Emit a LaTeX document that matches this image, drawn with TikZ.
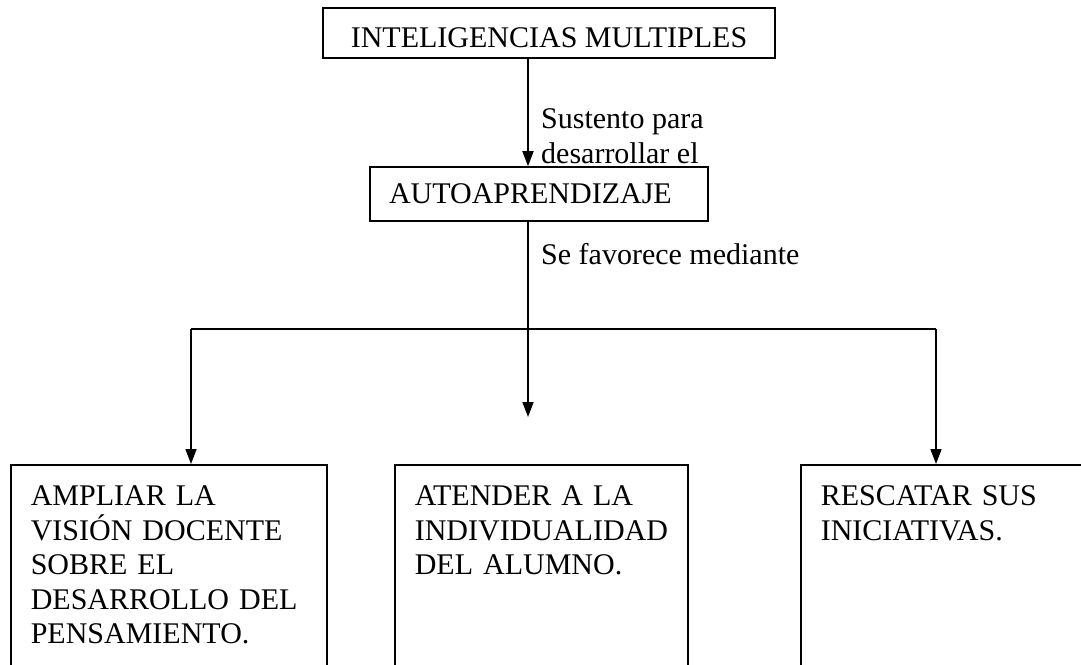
\documentclass[tikz,border=0pt]{standalone}
\usepackage{fontspec}
\setmainfont{Liberation Serif}
\usetikzlibrary{arrows.meta,positioning}
\hyphenpenalty=10000
\newcommand{\mapfont}{\fontsize{30}{34.5}\selectfont}
\tikzset{
  concept box/.style={draw,line width=1.6pt,inner ysep=0pt,font=\mapfont},
  leaf box/.style={draw,line width=1.6pt,anchor=north west,align=left,
    inner xsep=20pt,inner ysep=21pt,text depth=260pt,font=\mapfont},
  link/.style={line width=1.6pt},
  link arrow/.style={link,-{Triangle[length=15pt,width=11pt]}},
  link label/.style={align=left,inner sep=0pt,font=\fontsize{30}{35}\selectfont}
}

\begin{document}
\begin{tikzpicture}[x=1pt,y=-1pt]
  \useasboundingbox (0,0) rectangle (1081,664);
  \clip (0,0) rectangle (1081,664);

  % boxes
  \node[concept box,minimum width=452pt,minimum height=50pt,text height=28pt,text depth=0pt] (inteligencias) at (549,33) {INTELIGENCIAS MULTIPLES};
  \node[concept box,minimum height=54pt,text width=300pt,inner xsep=19pt,align=left] (auto) at (539,194) {AUTOAPRENDIZAJE};
  \node[leaf box,text width=276pt] (ampliar) at (10,464) {AMPLIAR LA\\VISIÓN DOCENTE\\SOBRE EL\\DESARROLLO DEL\\PENSAMIENTO.};
  \node[leaf box,text width=253pt] (atender) at (394,464) {ATENDER A LA\\INDIVIDUALIDAD\\DEL ALUMNO.};
  \node[leaf box,text width=290pt] (rescatar) at (800,464) {RESCATAR SUS\\INICIATIVAS.};

  % connectors
  \coordinate (spine) at (528,0);
  \coordinate (jl) at (191,329);
  \coordinate (jr) at (936,329);
  \coordinate (drop) at (528,417);
  \draw[link arrow] (inteligencias.south -| spine) -- (auto.north -| spine);
  \draw[link arrow] (auto.south -| spine) -- (drop);
  \draw[link] (jl) -- (jr);
  \draw[link arrow] (jl) -- (jl |- ampliar.north);
  \draw[link arrow] (jr) -- (jr |- rescatar.north);

  % labels
  \node[link label,anchor=north west] (sustento) at (541,108) {Sustento para\\desarrollar el};
  \node[link label,anchor=base west] (favorece) at (541,264) {Se favorece mediante};
\end{tikzpicture}
\end{document}
